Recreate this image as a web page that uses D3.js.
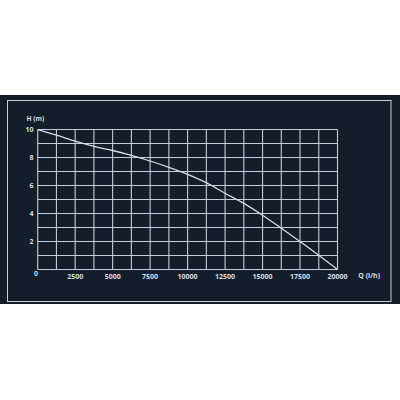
<!DOCTYPE html>
<html>
<head>
<meta charset="utf-8">
<script src="https://cdn.jsdelivr.net/npm/d3@7"></script>
<style>
  body { margin: 0; background: #ffffff; }
  svg { display: block; }
  .lbl { font-family: "Open Sans", sans-serif; font-weight: 700; fill: #d9dee3; }
</style>
</head>
<body>
<div id="chart"></div>
<script>
// pump curve, flow Q (l/h) vs head H (m)
const flow = [0, 1250, 2500, 3750, 5000, 6250, 7500, 8750, 10000, 11250, 12500, 13750, 15000, 16250, 17500, 18750, 20000];
const head = [10, 9.6, 9.17, 8.8, 8.5, 8.15, 7.75, 7.3, 6.8, 6.2, 5.45, 4.72, 3.88, 2.95, 2.0, 1.02, 0];
const xTicks = [2500, 5000, 7500, 10000, 12500, 15000, 17500, 20000];
const yTicks = [2, 4, 6, 8, 10];
const xGrid = d3.range(0, 20001, 1250);
const yGrid = d3.range(0, 11, 1);

const width = 400, height = 400;
const svg = d3.select("#chart").append("svg")
    .attr("width", width)
    .attr("height", height);

// dark panel + frame
svg.append("rect")
    .attr("x", 0).attr("y", 95)
    .attr("width", width).attr("height", 209)
    .attr("fill", "#131e2a");
svg.append("rect")
    .attr("x", 7.5).attr("y", 100.5)
    .attr("width", 383.5).attr("height", 201)
    .attr("fill", "none")
    .attr("stroke", "#c9d0d6")
    .attr("stroke-width", 1);

let x = d3.scaleLinear().domain([0, 20000]).range([37.7, 337.5]);
let y = d3.scaleLinear().domain([0, 10]).range([269.5, 129.5]);

// grid
svg.append("g").selectAll("line")
    .data(xGrid)
    .join("line")
    .attr("x1", d => x(d)).attr("x2", d => x(d))
    .attr("y1", y(0)).attr("y2", y(10))
    .attr("stroke", "#c6cdd4")
    .attr("stroke-width", 1.1);
svg.append("g").selectAll("line")
    .data(yGrid)
    .join("line")
    .attr("x1", x(0)).attr("x2", x(20000))
    .attr("y1", d => y(d)).attr("y2", d => y(d))
    .attr("stroke", "#c6cdd4")
    .attr("stroke-width", 1.1);

// curve
const line = d3.line()
    .x((d, i) => x(flow[i]))
    .y(d => y(d))
    .curve(d3.curveMonotoneX);
svg.append("path")
    .datum(head)
    .attr("d", line)
    .attr("fill", "none")
    .attr("stroke", "#d6dce1")
    .attr("stroke-width", 1.3);

// tick labels
svg.append("g").selectAll("text")
    .data(xTicks)
    .join("text")
    .attr("class", "lbl")
    .attr("x", d => x(d))
    .attr("y", 278.5)
    .attr("text-anchor", "middle")
    .attr("font-size", "7px")
    .text(d => d);
svg.append("g").selectAll("text")
    .data(yTicks)
    .join("text")
    .attr("class", "lbl")
    .attr("x", 33.5)
    .attr("y", d => y(d) + 2.3)
    .attr("text-anchor", "end")
    .attr("font-size", "7px")
    .text(d => d);
svg.append("text")
    .attr("class", "lbl")
    .attr("x", 36).attr("y", 275.8)
    .attr("text-anchor", "middle")
    .attr("font-size", "7px")
    .text("0");

// axis titles
svg.append("text")
    .attr("class", "lbl")
    .attr("x", 26.5).attr("y", 121)
    .attr("font-size", "6.6px")
    .text("H (m)");
svg.append("text")
    .attr("class", "lbl")
    .attr("x", 358.3).attr("y", 278.3)
    .attr("font-size", "7px")
    .text("Q (l/h)");
</script>
</body>
</html>
